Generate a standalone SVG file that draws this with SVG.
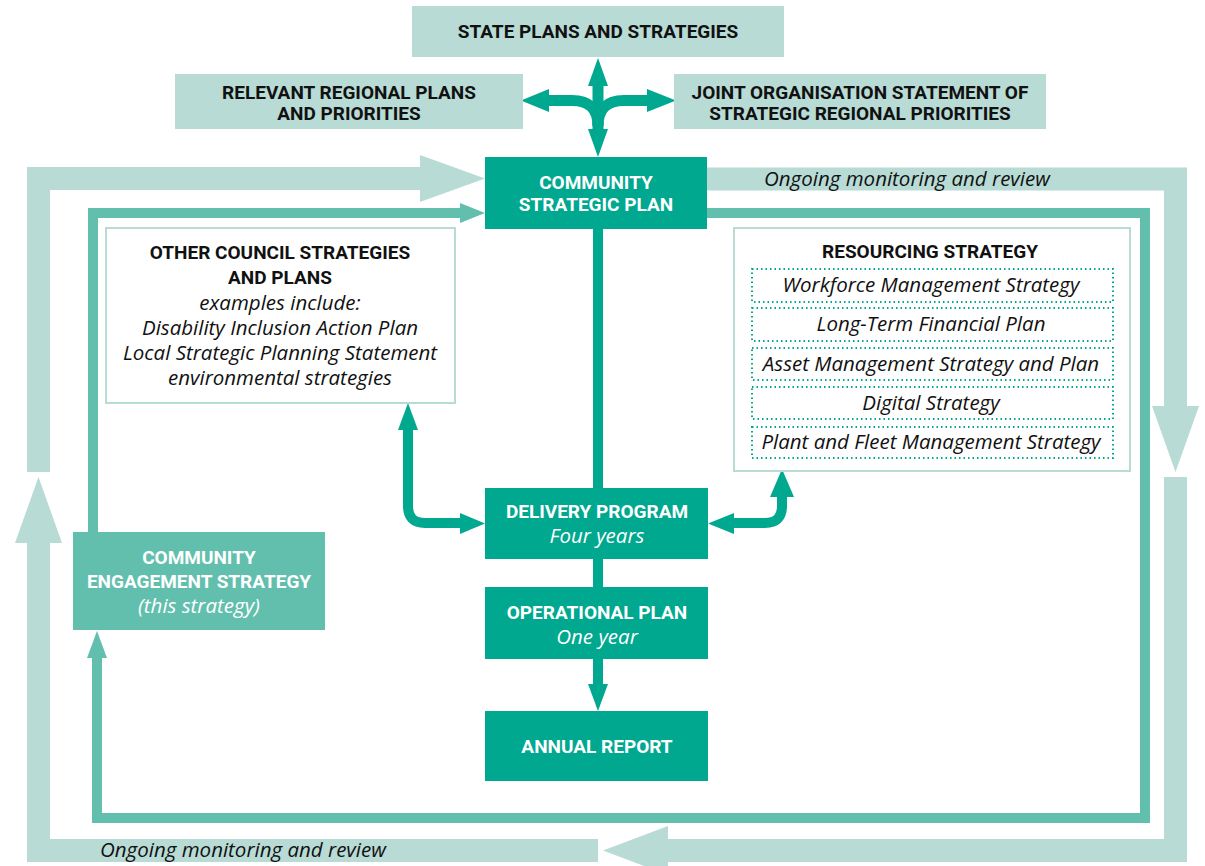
<svg xmlns="http://www.w3.org/2000/svg" width="1205" height="866" viewBox="0 0 1205 866">
<style>
.light{fill:#b8dbd5}
.mid{fill:#62bfae}
.dark{fill:#00a88f}
.ls{fill:none;stroke:#b8dbd5;stroke-width:23}
.ms{fill:none;stroke:#62bfae;stroke-width:10}
.ds{fill:none;stroke:#00a88f;stroke-width:10}
.wbox{fill:#fff;stroke:#b8dbd5;stroke-width:2}
.dot{fill:none;stroke:#00a88f;stroke-width:2;stroke-dasharray:1.5 3}
text{font-family:Roboto,"Liberation Sans",sans-serif;text-anchor:middle;dominant-baseline:central}
.b{font-weight:bold;font-size:19px;fill:#111}
.bw{font-weight:bold;font-size:19px;fill:#fff}
.i{font-family:"Open Sans",Roboto,sans-serif;font-style:italic;font-size:20.5px;fill:#111}
.iw{font-family:"Open Sans",Roboto,sans-serif;font-style:italic;font-size:20.5px;fill:#fff}
</style>
<g id="connectors">
  <path class="ls" d="M420 178.5 H38.5 V472"/>
  <polygon class="light" points="420,155 485,178.5 420,202"/>
  <path class="ls" d="M38.5 543 V850.5 H598"/>
  <polygon class="light" points="15,543 38.5,477 62,543"/>
  <path class="ls" d="M707 179 H1175.5 V406"/>
  <polygon class="light" points="1152,406 1199,406 1175.5,472"/>
  <path class="ls" d="M1175.5 477 V850.5 H640"/>
  <polygon class="light" points="668,826 603,850.5 668,875"/>
  <path class="ms" d="M93 532 V213 H460"/>
  <polygon class="mid" points="460,203 485,213 460,223"/>
  <path class="ms" d="M97 658 V818 H1145 V213 H707"/>
  <polygon class="mid" points="87,658 97,631 107,658"/>
  <path class="ds" style="stroke-width:11" d="M598 84 V131"/>
  <polygon class="dark" points="588,86 598,58 608,86"/>
  <polygon class="dark" points="588,129 598,157 608,129"/>
  <path class="ds" style="stroke-width:11" d="M547 100.5 H572 Q598 100.5 598 126"/>
  <path class="ds" style="stroke-width:11" d="M649 100.5 H624 Q598 100.5 598 126"/>
  <polygon class="dark" points="549,89 521,100.5 549,112"/>
  <polygon class="dark" points="647,89 676,100.5 647,112"/>
  <path class="ds" d="M598 229 V488"/>
  <path class="ds" d="M598 559 V587"/>
  <path class="ds" d="M598 659 V685"/>
  <polygon class="dark" points="588,684 608,684 598,711"/>
  <path class="ds" d="M408 428 V506 Q408 523 425 523 H461"/>
  <polygon class="dark" points="398,430 408,403 418,430"/>
  <polygon class="dark" points="460,513 485,523.5 460,534"/>
  <path class="ds" d="M733 523 H765 Q782 523 782 506 V495"/>
  <polygon class="dark" points="734,513 708,523.5 734,534"/>
  <polygon class="dark" points="770,497 782,469 794,497"/>
</g>
<g id="state">
  <rect class="light" x="412" y="6" width="372" height="51"/>
  <text class="b" x="598" y="31">STATE PLANS AND STRATEGIES</text>
</g>
<g id="regional">
  <rect class="light" x="175" y="74" width="348" height="55"/>
  <text class="b" x="349" y="92">RELEVANT REGIONAL PLANS</text>
  <text class="b" x="349" y="113">AND PRIORITIES</text>
</g>
<g id="joint">
  <rect class="light" x="674" y="74" width="372" height="55"/>
  <text class="b" x="860" y="92">JOINT ORGANISATION STATEMENT OF</text>
  <text class="b" x="860" y="113">STRATEGIC REGIONAL PRIORITIES</text>
</g>
<g id="csp">
  <rect class="dark" x="485" y="157" width="222" height="72"/>
  <text class="bw" x="596" y="182">COMMUNITY</text>
  <text class="bw" x="596" y="204">STRATEGIC PLAN</text>
</g>
<g id="monitor-top">
  <text class="i" x="764" y="178" style="text-anchor:start">Ongoing monitoring and review</text>
</g>
<g id="other">
  <rect class="wbox" x="106" y="228" width="349" height="175"/>
  <text class="b" x="280" y="252">OTHER COUNCIL STRATEGIES</text>
  <text class="b" x="280" y="277">AND PLANS</text>
  <text class="i" x="280" y="302">examples include:</text>
  <text class="i" x="280" y="327">Disability Inclusion Action Plan</text>
  <text class="i" x="280" y="352">Local Strategic Planning Statement</text>
  <text class="i" x="280" y="377">environmental strategies</text>
</g>
<g id="resourcing">
  <rect class="wbox" x="734" y="228" width="396" height="243"/>
  <text class="b" x="930" y="251">RESOURCING STRATEGY</text>
  <rect class="dot" x="752" y="269" width="361" height="33"/>
  <text class="i" x="931" y="284">Workforce Management Strategy</text>
  <rect class="dot" x="752" y="308" width="361" height="33"/>
  <text class="i" x="931" y="323">Long-Term Financial Plan</text>
  <rect class="dot" x="752" y="348" width="361" height="32"/>
  <text class="i" x="931" y="363">Asset Management Strategy and Plan</text>
  <rect class="dot" x="752" y="387" width="361" height="32"/>
  <text class="i" x="931" y="402">Digital Strategy</text>
  <rect class="dot" x="752" y="427" width="361" height="31"/>
  <text class="i" x="931" y="441">Plant and Fleet Management Strategy</text>
</g>
<g id="delivery">
  <rect class="dark" x="485" y="488" width="223" height="71"/>
  <text class="bw" x="597" y="511">DELIVERY PROGRAM</text>
  <text class="iw" x="597" y="535">Four years</text>
</g>
<g id="ces">
  <rect class="mid" x="73" y="532" width="252" height="98"/>
  <text class="bw" x="199" y="557">COMMUNITY</text>
  <text class="bw" x="199" y="581">ENGAGEMENT STRATEGY</text>
  <text class="iw" x="199" y="605">(this strategy)</text>
</g>
<g id="operational">
  <rect class="dark" x="485" y="587" width="223" height="72"/>
  <text class="bw" x="597" y="612">OPERATIONAL PLAN</text>
  <text class="iw" x="597" y="636">One year</text>
</g>
<g id="annual">
  <rect class="dark" x="485" y="711" width="223" height="70"/>
  <text class="bw" x="597" y="746">ANNUAL REPORT</text>
</g>
<g id="monitor-bottom">
  <text class="i" x="100" y="849" style="text-anchor:start">Ongoing monitoring and review</text>
</g>
</svg>
